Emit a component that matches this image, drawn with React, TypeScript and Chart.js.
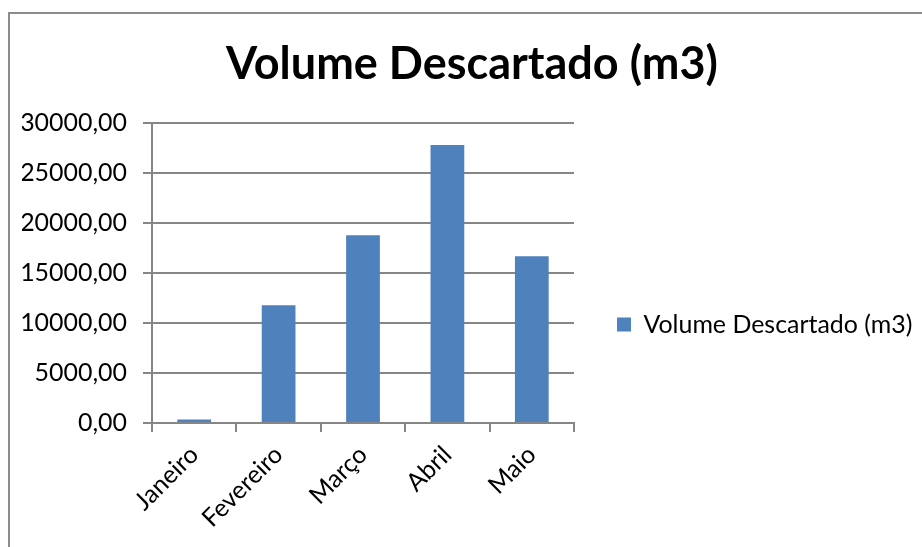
import React, { useEffect, useRef } from 'react';
import { Chart, registerables } from 'chart.js';

Chart.register(...registerables);

const categories = ['Janeiro', 'Fevereiro', 'Março', 'Abril', 'Maio'];
const values = [350, 11780, 18770, 27790, 16670];
const seriesLabel = 'Volume Descartado (m3)';
const titleText = 'Volume Descartado (m3)';
const yMin = 0;
const yMax = 30000;
const yStep = 5000;

const FAMILY = 'Lato, "Open Sans", sans-serif';

function fitSize(text: string, weight: string, target: number): number {
  const c = document.createElement('canvas');
  const ctx = c.getContext('2d')!;
  ctx.font = `${weight} 100px ${FAMILY}`;
  const w = ctx.measureText(text).width;
  return (100 * target) / w;
}

export default function App() {
  const ref = useRef<HTMLCanvasElement | null>(null);

  useEffect(() => {
    if (!ref.current) return;
    const reg = fitSize(seriesLabel, 'normal', 269);
    const ttl = fitSize(titleText, 'bold', 492);
    const grey = '#868686';
    const chart = new Chart(ref.current, {
      type: 'bar',
      data: {
        labels: categories,
        datasets: [
          {
            label: seriesLabel,
            data: values,
            backgroundColor: '#4F81BD',
            borderWidth: 0,
            barPercentage: 0.4,
            categoryPercentage: 1,
          },
        ],
      },
      options: {
        animation: false,
        responsive: false,
        devicePixelRatio: 1,
        layout: { padding: { left: 22, right: 0, top: 0, bottom: 0 } },
        plugins: {
          title: {
            display: true,
            text: titleText,
            color: '#000',
            font: { family: FAMILY, size: ttl, weight: 'bold' },
            padding: { top: 37, bottom: 32 },
          },
          legend: {
            position: 'right',
            maxWidth: 348,
            title: {
              display: true,
              text: ' ',
              font: { family: FAMILY, size: 10 },
              padding: { top: 0, bottom: 90 },
            },
            labels: {
              boxWidth: 14,
              boxHeight: 14,
              padding: 43,
              color: '#000',
              font: { family: FAMILY, size: reg },
            },
          },
          tooltip: { enabled: false },
        },
        scales: {
          x: {
            grid: {
              display: true,
              drawOnChartArea: false,
              drawTicks: true,
              tickLength: 9,
              color: grey,
              lineWidth: 2,
              offset: true,
            },
            border: { color: grey, width: 2 },
            ticks: {
              color: '#000',
              font: { family: FAMILY, size: reg },
              maxRotation: 45,
              minRotation: 45,
              padding: 8,
            },
            afterFit: (s: any) => {
              s.height = 124;
            },
          },
          y: {
            min: yMin,
            max: yMax,
            ticks: {
              stepSize: yStep,
              color: '#000',
              font: { family: FAMILY, size: reg },
              padding: 16,
              callback: (v: any) => Number(v).toFixed(2).replace('.', ','),
            },
            grid: { color: grey, lineWidth: 2, tickLength: 9 },
            border: { color: grey, width: 2 },
            afterFit: (s: any) => {
              s.width = 130;
            },
          },
        },
      },
    });
    return () => chart.destroy();
  }, []);

  return (
    <div
      style={{
        position: 'fixed',
        left: 0,
        top: 0,
        width: 922,
        height: 547,
        background: '#fff',
        overflow: 'hidden',
      }}
    >
      <div
        style={{
          position: 'absolute',
          left: 8,
          top: 12,
          width: 1000,
          height: 1000,
          border: '2px solid #8c8c8c',
          boxSizing: 'border-box',
        }}
      />
      <canvas
        ref={ref}
        width={922}
        height={547}
        style={{ position: 'absolute', left: 0, top: 0, width: 922, height: 547 }}
      />
    </div>
  );
}
